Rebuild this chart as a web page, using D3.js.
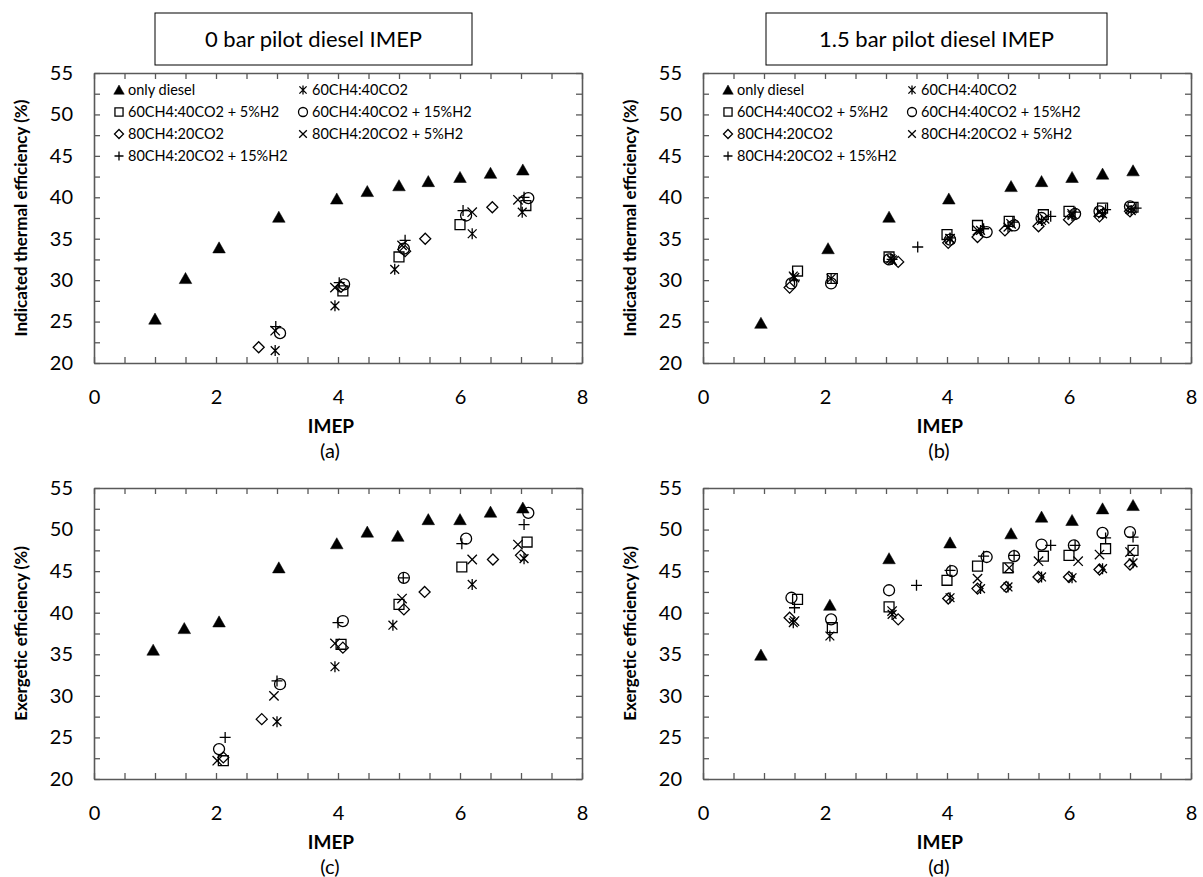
<!DOCTYPE HTML>
<html>
  <head>
    <meta charset='utf-8'>
    <title>IMEP efficiency charts</title>
    <script src='https://d3js.org/d3.v7.min.js'></script>
  </head>
  <style>
    body {margin:0; background:#fff;}
    svg text {font-family:Lato,'Open Sans',sans-serif; fill:#000;}
    .tick text {font-size:20px;}
    .ttl {font-size:22px;}
    .ylab {font-size:17px; font-weight:bold;}
    .xlab {font-size:19px; font-weight:bold;}
    .sub {font-size:20px;}
    .leg {font-size:14.5px;}
  </style>
  <body>
    <svg id='chart' width='1203' height='877'></svg>
<script>
  // series names and markers
  var names=['only diesel','60CH4:40CO2','60CH4:40CO2 + 5%H2','60CH4:40CO2 + 15%H2',
             '80CH4:20CO2','80CH4:20CO2 + 5%H2','80CH4:20CO2 + 15%H2'];
  var marks=['tri','star','sq','circ','diam','x','plus'];
  var xTicks=[0,2,4,6,8], yTicks=[20,25,30,35,40,45,50,55];

  // (a) indicated thermal efficiency, 0 bar pilot
  var aDiesel=[[1,25.3],[1.5,30.2],[2.05,33.9],[3.03,37.6],[3.98,39.8],[4.48,40.7],[5,41.4],[5.48,41.9],[6,42.4],[6.5,42.9],[7.03,43.3]];
  var aStar=[[2.97,21.5],[3.95,26.9],[4.93,31.3],[6.2,35.6],[7.02,38.2]];
  var aSq=[[4.08,28.7],[5,32.8],[6,36.7],[7.08,39.0]];
  var aCirc=[[3.05,23.6],[4.1,29.5],[5.08,33.8],[6.1,37.8],[7.12,39.9]];
  var aDiam=[[2.7,21.9],[4.05,29.2],[5.1,33.5],[5.43,35.0],[6.53,38.8]];
  var aX=[[2.97,23.9],[3.95,29.1],[5.05,34.2],[6.2,38.2],[6.95,39.7]];
  var aPlus=[[2.98,24.4],[4.02,29.7],[5.1,34.8],[6.05,38.4],[7.05,40.0]];

  // (b) indicated thermal efficiency, 1.5 bar pilot
  var bDiesel=[[0.95,24.8],[2.05,33.8],[3.05,37.6],[4.03,39.8],[5.05,41.3],[5.55,41.9],[6.05,42.4],[6.55,42.8],[7.05,43.2]];
  var bStar=[[1.48,30.5],[2.1,30.2],[3.08,32.6],[4.05,35.0],[4.55,36.0],[5.0,36.4],[5.55,37.2],[6.05,37.8],[6.55,38.0],[7.02,38.4]];
  var bSq=[[1.55,31.1],[2.12,30.2],[3.05,32.8],[4.0,35.5],[4.5,36.6],[5.02,37.1],[5.58,37.9],[6.0,38.3],[6.55,38.7],[7.05,38.8]];
  var bCirc=[[1.45,29.6],[2.1,29.6],[3.05,32.5],[4.05,34.9],[4.65,35.8],[5.1,36.6],[5.55,37.5],[6.1,38.0],[6.5,38.3],[7.0,38.9]];
  var bDiam=[[1.42,29.1],[3.2,32.2],[4.02,34.5],[4.5,35.2],[4.95,36.0],[5.5,36.5],[6.0,37.3],[6.5,37.7],[7.0,38.3]];
  var bX=[[1.5,30.3],[3.1,32.4],[4.05,35.0],[4.5,36.0],[5.05,36.8],[5.6,37.4],[6.05,38.0],[6.5,38.2],[7.0,38.6]];
  var bPlus=[[1.5,30.0],[3.1,32.5],[3.52,34.0],[4.05,35.1],[4.6,36.2],[5.08,37.0],[5.7,37.7],[6.1,38.2],[6.6,38.5],[7.1,38.7]];

  // (c) exergetic efficiency, 0 bar pilot
  var cDiesel=[[0.97,35.5],[1.48,38.1],[2.05,38.9],[3.03,45.4],[3.98,48.3],[4.48,49.7],[4.98,49.2],[5.48,51.2],[6.0,51.2],[6.5,52.1],[7.03,52.6]];
  var cStar=[[3.0,26.9],[3.95,33.5],[4.9,38.5],[6.2,43.4],[7.05,46.5]];
  var cSq=[[2.12,22.2],[4.05,36.2],[5.0,41.0],[6.03,45.5],[7.1,48.5]];
  var cCirc=[[2.05,23.6],[3.05,31.4],[4.08,39.0],[5.08,44.2],[6.1,48.9],[7.12,52.0]];
  var cDiam=[[2.12,22.6],[2.75,27.2],[4.08,35.8],[5.08,40.4],[5.42,42.5],[6.54,46.4],[7.0,46.9]];
  var cX=[[2.02,22.2],[2.95,30.0],[3.95,36.3],[5.05,41.7],[6.2,46.4],[6.95,48.2]];
  var cPlus=[[2.15,25.0],[3.0,31.8],[4.0,38.8],[5.07,44.2],[6.03,48.3],[7.05,50.6]];

  // (d) exergetic efficiency, 1.5 bar pilot
  var dDiesel=[[0.95,34.9],[2.08,40.9],[3.05,46.5],[4.05,48.4],[5.05,49.5],[5.55,51.5],[6.05,51.1],[6.55,52.5],[7.05,52.9]];
  var dStar=[[1.48,38.8],[2.08,37.2],[3.1,39.8],[4.05,41.8],[4.55,42.9],[5.0,43.1],[5.55,44.3],[6.05,44.2],[6.55,45.3],[7.05,46.0]];
  var dSq=[[1.55,41.6],[2.12,38.2],[3.05,40.7],[4.0,43.9],[4.5,45.6],[5.0,45.4],[5.58,46.8],[6.0,46.9],[6.6,47.7],[7.05,47.5]];
  var dCirc=[[1.45,41.8],[2.1,39.2],[3.05,42.7],[4.08,45.0],[4.65,46.7],[5.1,46.8],[5.55,48.2],[6.08,48.1],[6.55,49.6],[7.0,49.7]];
  var dDiam=[[1.42,39.4],[3.2,39.2],[4.02,41.7],[4.5,42.9],[4.97,43.1],[5.5,44.3],[6.0,44.3],[6.5,45.2],[7.0,45.8]];
  var dX=[[1.5,39.0],[3.1,40.2],[4.5,44.1],[5.02,45.4],[5.5,46.2],[6.15,46.2],[6.5,47.0],[7.0,47.3]];
  var dPlus=[[1.5,40.6],[3.5,43.3],[4.05,45.1],[4.6,46.8],[5.1,46.9],[5.7,48.1],[6.1,48.1],[6.6,49.0],[7.05,49.1]];

  var panels=[
    {left:94,top:73,bottom:363,sub:'(a)',ytitle:'Indicated thermal efficiency (%)',
     title:'0 bar pilot diesel IMEP',box:[155,13,317,52],
     series:[aDiesel,aStar,aSq,aCirc,aDiam,aX,aPlus]},
    {left:703,top:73,bottom:363,sub:'(b)',ytitle:'Indicated thermal efficiency (%)',
     title:'1.5 bar pilot diesel IMEP',box:[766,13,341,52],
     series:[bDiesel,bStar,bSq,bCirc,bDiam,bX,bPlus]},
    {left:94,top:488,bottom:779,sub:'(c)',ytitle:'Exergetic efficiency (%)',
     series:[cDiesel,cStar,cSq,cCirc,cDiam,cX,cPlus]},
    {left:703,top:488,bottom:779,sub:'(d)',ytitle:'Exergetic efficiency (%)',
     series:[dDiesel,dStar,dSq,dCirc,dDiam,dX,dPlus]}];
  var pw=488;
  var svg=d3.select('#chart');

  function markPath(m,r) {
    var p=d3.path();
    if (m=='tri') {p.moveTo(0,-r); p.lineTo(r*1.05,r*0.85); p.lineTo(-r*1.05,r*0.85); p.closePath();}
    else if (m=='sq') {p.rect(-r*0.9,-r*0.9,r*1.8,r*1.8);}
    else if (m=='circ') {p.arc(0,0,r,0,2*Math.PI);}
    else if (m=='diam') {p.moveTo(0,-r); p.lineTo(r,0); p.lineTo(0,r); p.lineTo(-r,0); p.closePath();}
    else if (m=='x') {p.moveTo(-r*.85,-r*.85); p.lineTo(r*.85,r*.85); p.moveTo(r*.85,-r*.85); p.lineTo(-r*.85,r*.85);}
    else if (m=='plus') {p.moveTo(-r,0); p.lineTo(r,0); p.moveTo(0,-r); p.lineTo(0,r);}
    else if (m=='star') {p.moveTo(-r*.8,-r*.8); p.lineTo(r*.8,r*.8); p.moveTo(r*.8,-r*.8); p.lineTo(-r*.8,r*.8);
                         p.moveTo(0,-r); p.lineTo(0,r);}
    return p.toString();
  }
  function drawMark(g,m,x,y,r) {
    g.append('path').attr('d',markPath(m,r))
     .attr('transform',`translate(${x},${y})`)
     .attr('fill',m=='tri'?'#000':'none')
     .attr('stroke','#000').attr('stroke-width',m=='tri'?0.5:1.3);
  }

  panels.forEach(function(P) {
    var x=d3.scaleLinear().domain([0,8]).range([P.left,P.left+pw]),
        y=d3.scaleLinear().domain([20,55]).range([P.bottom,P.top]);
    var g=svg.append('g');
    var xt=d3.range(0,8.01,0.5), yt=d3.range(20,55.01,2.5);
    var fx=d=>xTicks.indexOf(d)>=0?d:'', fy=d=>yTicks.indexOf(d)>=0?d:'';
    g.append('g').attr('transform',`translate(0,${P.bottom})`)
     .call(d3.axisBottom(x).tickValues(xt).tickFormat(fx).tickSizeInner(-6).tickSizeOuter(0).tickPadding(27));
    g.append('g').attr('transform',`translate(0,${P.top})`)
     .call(d3.axisTop(x).tickValues(xt).tickFormat('').tickSizeInner(-6).tickSizeOuter(0));
    g.append('g').attr('transform',`translate(${P.left},0)`)
     .call(d3.axisLeft(y).tickValues(yt).tickFormat(fy).tickSizeInner(-6).tickSizeOuter(0).tickPadding(21));
    g.append('g').attr('transform',`translate(${P.left+pw},0)`)
     .call(d3.axisRight(y).tickValues(yt).tickFormat('').tickSizeInner(-6).tickSizeOuter(0));
    g.selectAll('.domain').attr('stroke','#595959').attr('stroke-width',1.6);
    g.selectAll('.tick line').attr('stroke','#595959').attr('stroke-width',1.3);
    g.selectAll('.tick text').attr('fill','#000');

    // axis titles
    var cy=(P.top+P.bottom)/2;
    g.append('text').attr('class','ylab').attr('text-anchor','middle')
     .attr('transform',`translate(${P.left-67},${cy}) rotate(-90)`).text(P.ytitle);
    g.append('text').attr('class','xlab').attr('text-anchor','middle')
     .attr('x',P.left+237).attr('y',P.bottom+70).text('IMEP');
    g.append('text').attr('class','sub').attr('text-anchor','middle')
     .attr('x',P.left+236).attr('y',P.bottom+95).text(P.sub);

    // points
    P.series.forEach(function(s,i) {
      s.forEach(function(d) {drawMark(g,marks[i],x(d[0]),y(d[1]),marks[i]=='tri'?6:5.5);});
    });

    // title box and legend (top row only)
    if (P.title) {
      g.append('rect').attr('x',P.box[0]).attr('y',P.box[1])
       .attr('width',P.box[2]).attr('height',P.box[3])
       .attr('fill','#fff').attr('stroke','#000').attr('stroke-width',1);
      g.append('text').attr('class','ttl').attr('text-anchor','middle')
       .attr('x',P.box[0]+P.box[2]/2).attr('y',P.box[1]+34).text(P.title);
      names.forEach(function(n,i) {
        var col=(i==0||i==2||i==4||i==6)?0:1, row=Math.floor(i/2);
        var lx=P.left+(col?209:25), ly=P.top+17+row*22;
        drawMark(g,marks[i],lx,ly,marks[i]=='tri'?5:4.5);
        g.append('text').attr('class','leg').attr('x',lx+9).attr('y',ly+5).text(n);
      });
    }
  });
</script>
  </body>
</html>
